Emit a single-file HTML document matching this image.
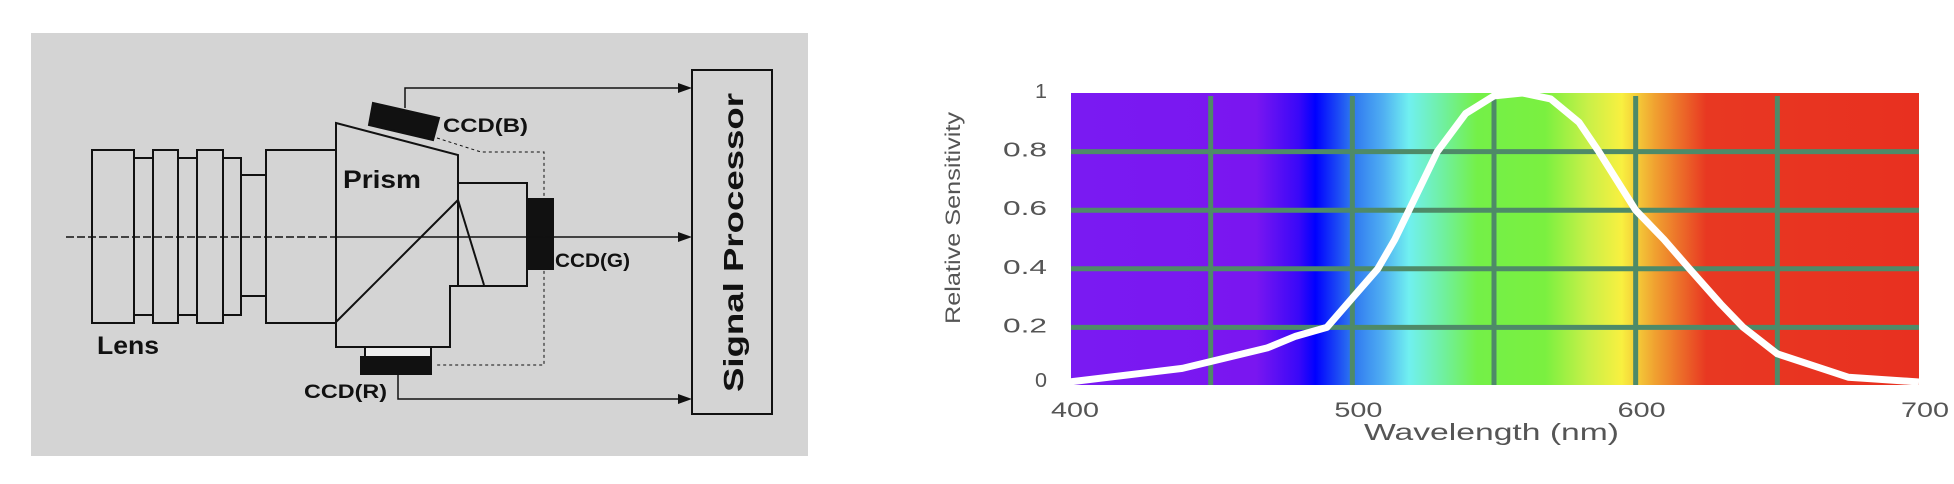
<!DOCTYPE html>
<html><head><meta charset="utf-8"><style>
html,body{margin:0;padding:0;background:#fff;}
body{width:1954px;height:484px;overflow:hidden;position:relative;font-family:"Liberation Sans",sans-serif;}
svg{position:absolute;left:0;top:0;}
</style></head><body>
<svg width="1954" height="484" viewBox="0 0 1954 484">
<defs>
<linearGradient id="spec" x1="1069" x2="1919" y1="0" y2="0" gradientUnits="userSpaceOnUse">
<stop offset="0" stop-color="#7a1af2"/>
<stop offset="0.22" stop-color="#7a16f0"/>
<stop offset="0.27" stop-color="#3a08f8"/>
<stop offset="0.29" stop-color="#0000ff"/>
<stop offset="0.33" stop-color="#2a70f0"/>
<stop offset="0.37" stop-color="#50b0f2"/>
<stop offset="0.40" stop-color="#70f0f0"/>
<stop offset="0.44" stop-color="#70f0a0"/>
<stop offset="0.48" stop-color="#74f048"/>
<stop offset="0.56" stop-color="#7af040"/>
<stop offset="0.61" stop-color="#c8f048"/>
<stop offset="0.65" stop-color="#f8f040"/>
<stop offset="0.69" stop-color="#f0a030"/>
<stop offset="0.75" stop-color="#e83822"/>
<stop offset="1" stop-color="#e83020"/>
</linearGradient>
</defs>

<g stroke="#111" stroke-width="2" fill="none">
<rect x="31" y="33" width="777" height="423" fill="#d4d4d4" stroke="none"/>
<g>
<rect x="92" y="150" width="42" height="173"/>
<rect x="134" y="158" width="19" height="157"/>
<rect x="153" y="150" width="25" height="173"/>
<rect x="178" y="158" width="19" height="157"/>
<rect x="197" y="150" width="26" height="173"/>
<rect x="223" y="158" width="18" height="157"/>
<rect x="241" y="175" width="25" height="121"/>
<rect x="266" y="150" width="70" height="173"/>
</g>
<g>
<path d="M336 123 L458 155 L458 286 L450 286 L450 347 L336 347 Z"/>
<rect x="458" y="183" width="69" height="103"/>
<line x1="336" y1="322" x2="458" y2="200"/>
<line x1="458" y1="200" x2="484" y2="285"/>
</g>
<polygon points="373,103 439,118 433,140 369,125" fill="#111"/>
<rect x="528" y="199" width="25" height="70" fill="#111"/>
<rect x="365" y="347" width="66" height="10" fill="#eee"/>
<rect x="361" y="357" width="70" height="17" fill="#111"/>
<path d="M66 237 H330" stroke-dasharray="8 3" stroke-width="1.5"/>
<path d="M330 237 H684" stroke-width="1.5"/>
<path d="M405 108 V88 H684" stroke-width="1.5"/>
<path d="M398 374 V399 H684" stroke-width="1.5"/>
<path d="M437 138 L481 152 H544 V365 H437" stroke-dasharray="3 3" stroke-width="1"/>
<polygon points="692,88 678,83 678,93" fill="#111" stroke="none"/>
<polygon points="692,237 678,232 678,242" fill="#111" stroke="none"/>
<polygon points="692,399 678,394 678,404" fill="#111" stroke="none"/>
<rect x="692" y="70" width="80" height="344"/>
</g>
<g font-family="Liberation Sans, sans-serif" font-weight="bold" fill="#111">
<text x="97" y="354" font-size="25" textLength="62" lengthAdjust="spacingAndGlyphs">Lens</text>
<text x="343" y="188" font-size="25" textLength="78" lengthAdjust="spacingAndGlyphs">Prism</text>
<text x="443" y="132" font-size="19" textLength="85" lengthAdjust="spacingAndGlyphs">CCD(B)</text>
<text x="555" y="267" font-size="19" textLength="75" lengthAdjust="spacingAndGlyphs">CCD(G)</text>
<text x="304" y="398" font-size="19" textLength="83" lengthAdjust="spacingAndGlyphs">CCD(R)</text>
<text transform="translate(743,242) rotate(-90)" x="-150" y="0" font-size="28" textLength="299" lengthAdjust="spacingAndGlyphs">Signal Processor</text>
</g>

<g id="chart"></g>
</svg>
<script>
const xTicks=[400,500,600,700];
const xGrid=[450,500,550,600,650];
const yTicks=[0,0.2,0.4,0.6,0.8,1];
const yTickLabels=["0","0.2","0.4","0.6","0.8","1"];
const wavelengths=[400,440,470,480,491,500,509,515,520,530,540,550,560,570,580,587,600,610,619,630,638,650,675,700];
const sensitivity=[0,0.06,0.13,0.17,0.2,0.3,0.4,0.5,0.6,0.8,0.93,0.99,1.0,0.98,0.9,0.8,0.6,0.5,0.4,0.28,0.2,0.11,0.03,0];
const NS="http://www.w3.org/2000/svg";
const X0=1069,X1=1919,Y0=386,Y1=93;
function sx(v){return X0+(v-400)/300*(X1-X0);}
function sy(v){return Y0-v*(Y0-Y1);}
const g=document.getElementById('chart');
function mk(tag,attrs){const e=document.createElementNS(NS,tag);for(const k in attrs)e.setAttribute(k,attrs[k]);g.appendChild(e);return e;}
const bg=mk('rect',{x:1071,y:93,width:X1-1071,height:292,fill:'url(#spec)'});


xGrid.forEach(v=>{const l=mk('line',{x1:sx(v),x2:sx(v),y1:96,y2:385,stroke:'#4e8a68','stroke-width':5});

});
yTicks.slice(1,5).forEach(v=>{const l=mk('line',{x1:1071,x2:X1,y1:sy(v),y2:sy(v),stroke:'#4e8a68','stroke-width':5});

});
yTicks.forEach((v,i)=>{const lab=yTickLabels[i];const w=lab.length>1?44:12;
const t=mk('text',{x:1047-w,y:Math.min(sy(v),382)+5,'font-size':20,fill:'#555',textLength:w,lengthAdjust:'spacingAndGlyphs'});t.textContent=lab;

});
xTicks.forEach(v=>{const t=mk('text',{x:sx(v)+6-24,y:417,'font-size':21,fill:'#555',textLength:48,lengthAdjust:'spacingAndGlyphs'});t.textContent=v;

});
const xt=mk('text',{x:1364,y:440,'font-size':23,fill:'#555',textLength:255,lengthAdjust:'spacingAndGlyphs'});xt.textContent='Wavelength (nm)';


const yt=mk('text',{transform:'translate(960,218) rotate(-90)',x:-106,y:0,'font-size':21,fill:'#555',textLength:212,lengthAdjust:'spacingAndGlyphs'});yt.textContent='Relative Sensitivity';


const d=wavelengths.map((w,i)=>(i?'L':'M')+sx(w).toFixed(1)+' '+Math.min(sy(sensitivity[i]),382).toFixed(1)).join(' ');
const p=mk('path',{d:d,fill:'none',stroke:'#fff','stroke-width':7,'stroke-linejoin':'round'});


</script>
</body></html>
